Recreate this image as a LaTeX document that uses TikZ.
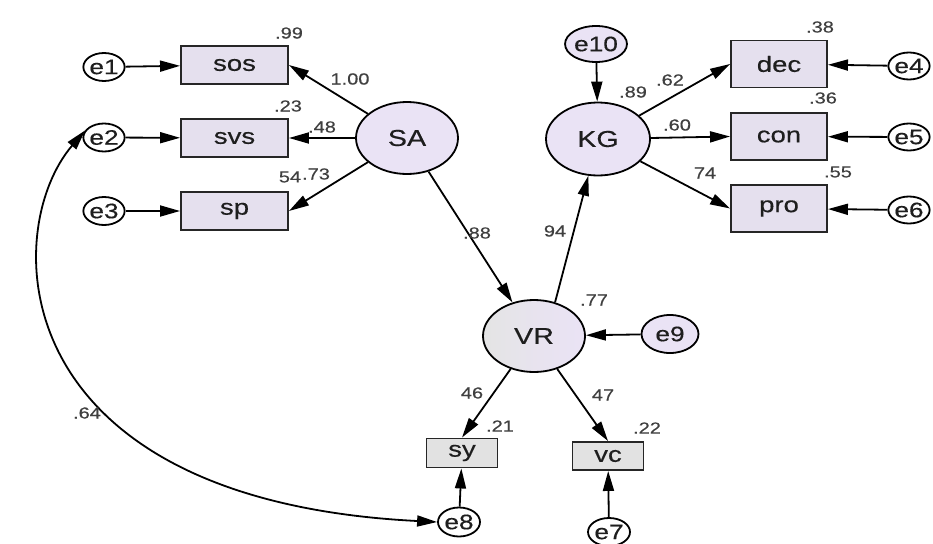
\documentclass[tikz,border=0pt]{standalone}
\usepackage{fontspec}
\setmainfont{Liberation Sans}[FakeStretch=1.25,FakeBold=0.4]
\usetikzlibrary{shapes.geometric,arrows.meta}
\definecolor{lav}{HTML}{EAE3F5}
\definecolor{boxlav}{HTML}{E5E0EE}
\definecolor{boxgrey}{HTML}{E2E2E2}
\definecolor{vrgrey}{HTML}{E4E4E4}
\definecolor{ink}{HTML}{1E1E1E}
\newcommand{\fs}[1]{\fontsize{#1}{#1}\selectfont}
\tikzset{
  latent/.style={ellipse,draw=black,line width=1.8pt,fill=lav,inner sep=0pt,
    minimum width=102pt,minimum height=72pt,font=\fs{23},text=ink},
  obsbox/.style={rectangle,draw=black!85,line width=1.9pt,fill=boxlav,inner sep=0pt,
    minimum width=107pt,minimum height=38pt,font=\fs{22},text=ink},
  rbox/.style={obsbox,minimum width=96pt,minimum height=47pt},
  smallbox/.style={obsbox,fill=boxgrey,minimum width=71pt,minimum height=29pt},
  err/.style={ellipse,draw=black,line width=1.8pt,fill=white,inner sep=0pt,
    minimum width=36pt,minimum height=28pt,font=\fs{21},text=ink},
  coef/.style={font=\fs{16},text=ink!85,inner sep=0pt},
  path/.style={line width=1.8pt,-{Triangle[length=20pt,width=11pt]}},
  covpath/.style={line width=1.8pt,{Triangle[length=20pt,width=11pt]}-{Triangle[length=20pt,width=11pt]}}
}
\begin{document}
\begin{tikzpicture}[x=1pt,y=-1pt]
\fill[white] (0,0) rectangle (933,543);
\useasboundingbox (0,0) rectangle (933,543);

% latent variables
\node[latent] (SA) at (407,138) {SA};
\node[latent,minimum width=104pt,minimum height=73pt] (KG) at (598,139) {KG};
\node[latent,left color=vrgrey,right color=lav,middle color=lav!60!vrgrey] (VR) at (534,336) {VR};

% observed indicators
\node[obsbox] (sos) at (234.5,65) {sos};
\node[obsbox] (svs) at (234.5,138) {svs};
\node[obsbox] (sp) at (234.5,211) {sp};
\node[rbox] (dec) at (779,64) {dec};
\node[rbox] (con) at (779,136.5) {con};
\node[rbox] (pro) at (779,208.5) {pro};
\node[smallbox] (sy) at (462,453) {sy};
\node[smallbox,minimum height=28pt] (vc) at (608,456) {vc};

% error terms
\node[err] (e1) at (104,67) {e1};
\node[err] (e2) at (104,137.5) {e2};
\node[err] (e3) at (104,211) {e3};
\node[err,minimum width=38pt,minimum height=27pt] (e4) at (909,66) {e4};
\node[err,minimum width=38pt,minimum height=27pt] (e5) at (909,137) {e5};
\node[err,minimum width=38pt,minimum height=27pt] (e6) at (909,210) {e6};
\node[err,minimum width=42pt,minimum height=28pt] (e7) at (609,532) {e7};
\node[err,minimum width=42pt,minimum height=29pt] (e8) at (459,522) {e8};
\node[err,fill=lav,minimum width=57pt,minimum height=38pt] (e9) at (670,334) {e9};
\node[err,fill=lav,minimum width=54pt,minimum height=36pt] (e10) at (596,44) {e10};

% structural and measurement paths
\draw[path] (SA) -- (sos.east);
\draw[path] (SA) -- (svs.east);
\draw[path] (SA) -- (sp.east);
\draw[path] (SA) -- (VR);
\draw[path] (VR.58) -- (KG);
\draw[path] (KG) -- (dec.west);
\draw[path] (KG) -- (con.west);
\draw[path] (KG) -- (pro.west);
\draw[path] (VR) -- (sy.north);
\draw[path] (VR) -- (vc.north);

% error paths
\draw[path] (e1) -- (sos);
\draw[path] (e2) -- (svs);
\draw[path] (e3) -- (sp);
\draw[path] (e4) -- (dec);
\draw[path] (e5) -- (con);
\draw[path] (e6) -- (pro);
\draw[path] (e10) -- (KG);
\draw[path] (e9) -- (VR);
\draw[path] (e8) -- (sy);
\draw[path] (e7) -- (vc);

% covariance between e2 and e8
\draw[covpath] (e2.160) .. controls (0,230) and (0,500) .. (e8.west);

% coefficients
\node[coef] (c99) at (289,33) {.99};
\node[coef] (c100) at (350,79) {1.00};
\node[coef] (c23) at (288,106) {.23};
\node[coef] (c48) at (322,127) {.48};
\node[coef] (c54) at (290,177) {54};
\node[coef] (c73) at (316,174) {.73};
\node[coef] (c88) at (477,233) {.88};
\node[coef] (c89) at (633,92) {.89};
\node[coef] (c62) at (670,80) {.62};
\node[coef] (c60) at (677,125) {.60};
\node[coef] (c74) at (705,173) {74};
\node[coef] (c38) at (820,27) {.38};
\node[coef] (c36) at (823,98) {.36};
\node[coef] (c55) at (838,172) {.55};
\node[coef] (c94) at (555,231) {94};
\node[coef] (c77) at (594,300) {.77};
\node[coef] (c46) at (472,393) {46};
\node[coef] (c47) at (603,395) {47};
\node[coef] (c21) at (500,426) {.21};
\node[coef] (c22) at (647,428) {.22};
\node[coef] (c64) at (87,413) {.64};
\end{tikzpicture}
\end{document}
